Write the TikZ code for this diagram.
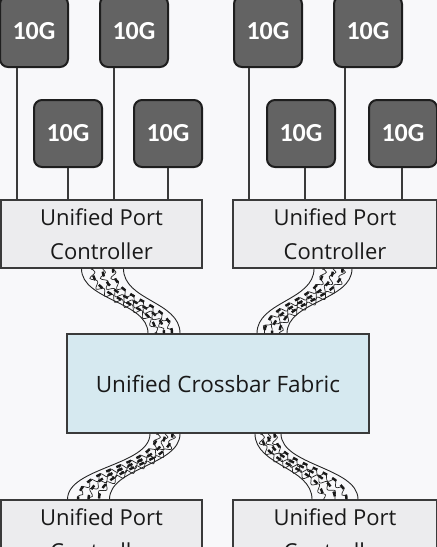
\documentclass[tikz,border=0pt]{standalone}
\usepackage{fontspec}
\setmainfont{Open Sans}
\newfontfamily\portfont{Carlito}
\usetikzlibrary{calc,decorations.pathmorphing}
\definecolor{bgc}{HTML}{F8F8FA}
\definecolor{portfill}{HTML}{636363}
\definecolor{portedge}{HTML}{1E1E1E}
\definecolor{ctrlfill}{HTML}{ECECEE}
\definecolor{fabfill}{HTML}{D6E9F0}
\definecolor{edgec}{HTML}{3A3A3A}
\tikzset{
  port/.style={draw=portedge, line width=2pt, fill=portfill, rounded corners=8pt,
    minimum width=68pt, inner sep=0pt, text=white, font=\portfont\fontsize{26}{26}\selectfont\bfseries},
  ctrl/.style={draw=edgec, line width=1.3pt, fill=ctrlfill, inner sep=0pt,
    align=center, font=\fontsize{22}{34}\selectfont, text=black!90},
  fabric/.style={draw=edgec, line width=1.3pt, fill=fabfill, inner sep=0pt,
    minimum width=302pt, minimum height=99pt, font=\fontsize{22.5}{26}\selectfont, text=black!90},
  wire/.style={draw=edgec, line width=1.3pt},
  ropeedge/.style={line width=0.9pt, draw=black!85},
  ropetwist/.style={line width=0.7pt, draw=black!85, decorate,
    decoration={snake, amplitude=3pt, segment length=11pt}},
  ropedash/.style={line width=2.4pt, draw=black!90, dash pattern=on 5pt off 6pt}
}
\newcommand\ropecable[4]{%
  \foreach \k in {0,1} {
    \pgfmathsetmacro\fa{(\k-0.5)*#3}
    \pgfmathsetmacro\fb{(\k-0.5)*#4}
    \draw[ropeedge] ($(#1)+(\fa,0)$) .. controls ($(#1)+(\fa,32)$) and ($(#2)+(\fb,-32)$) .. ($(#2)+(\fb,0)$);
  }
  \foreach \k in {1,2,3} {
    \pgfmathsetmacro\fa{(\k/4-0.5)*#3}
    \pgfmathsetmacro\fb{(\k/4-0.5)*#4}
    \pgfmathsetmacro\ph{\k*4}
    \draw[ropetwist] ($(#1)+(\fa,0)$) .. controls ($(#1)+(\fa,32)$) and ($(#2)+(\fb,-32)$) .. ($(#2)+(\fb,0)$);
    \draw[ropedash, dash phase=\ph pt] ($(#1)+(\fa,0)$) .. controls ($(#1)+(\fa,32)$) and ($(#2)+(\fb,-32)$) .. ($(#2)+(\fb,0)$);
  }}
\begin{document}
\begin{tikzpicture}[x=1pt,y=-1pt]
\fill[bgc] (0,0) rectangle (437,547);
\useasboundingbox (0,0) rectangle (437,547);
\begin{scope}
\clip (0,0) rectangle (437,547);
% controllers
\node[ctrl, minimum width=201pt, minimum height=68pt] (upc1) at (101.5,234) {Unified Port\\Controller};
\node[ctrl, minimum width=204pt, minimum height=68pt] (upc2) at (335,234) {Unified Port\\Controller};
\node[ctrl, minimum width=201pt, minimum height=68pt] (lpc1) at (101.5,534) {Unified Port\\Controller};
\node[ctrl, minimum width=204pt, minimum height=68pt] (lpc2) at (335,534) {Unified Port\\Controller};
\node[fabric] (fab) at (218,383.5) {Unified Crossbar Fabric};
% 10G ports
\node[port, minimum height=71pt] (t1) at (34,31.5) {10G};
\node[port, minimum height=71pt] (t2) at (134,31.5) {10G};
\node[port, minimum height=71pt] (t3) at (268,31.5) {10G};
\node[port, minimum height=71pt] (t4) at (368,31.5) {10G};
\node[port, minimum height=67pt] (b1) at (68,133.5) {10G};
\node[port, minimum height=67pt] (b2) at (168,133.5) {10G};
\node[port, minimum height=67pt] (b3) at (301,133.5) {10G};
\node[port, minimum height=67pt] (b4) at (403,133.5) {10G};
% port wires
\draw[wire] ([xshift=-17pt]t1.south) -- ([xshift=-17pt]t1.south |- upc1.north);
\draw[wire] ([xshift=-20pt]t2.south) -- ([xshift=-20pt]t2.south |- upc1.north);
\draw[wire] (b1.south) -- (b1.south |- upc1.north);
\draw[wire] (b2.south) -- (b2.south |- upc1.north);
\draw[wire] ([xshift=-19pt]t3.south) -- ([xshift=-19pt]t3.south |- upc2.north);
\draw[wire] ([xshift=-23pt]t4.south) -- ([xshift=-23pt]t4.south |- upc2.north);
\draw[wire] ([xshift=4pt]b3.south) -- ([xshift=4pt]b3.south |- upc2.north);
\draw[wire] ([xshift=-1pt]b4.south) -- ([xshift=-1pt]b4.south |- upc2.north);
% rope cables
\coordinate (r1a) at ($(upc1.south)+(1,0)$);
\coordinate (r1b) at ($(fab.north)+(-54,0)$);
\coordinate (r2a) at ($(upc2.south)+(-2,0)$);
\coordinate (r2b) at ($(fab.north)+(54,0)$);
\coordinate (r3a) at ($(fab.south)+(-53,0)$);
\coordinate (r3b) at ($(lpc1.north)+(-13,0)$);
\coordinate (r4a) at ($(fab.south)+(50,0)$);
\coordinate (r4b) at ($(lpc2.north)+(0,0)$);
\ropecable{r1a}{r1b}{42}{32}
\ropecable{r2a}{r2b}{38}{30}
\ropecable{r3a}{r3b}{30}{42}
\ropecable{r4a}{r4b}{26}{46}
\end{scope}
\end{tikzpicture}
\end{document}
